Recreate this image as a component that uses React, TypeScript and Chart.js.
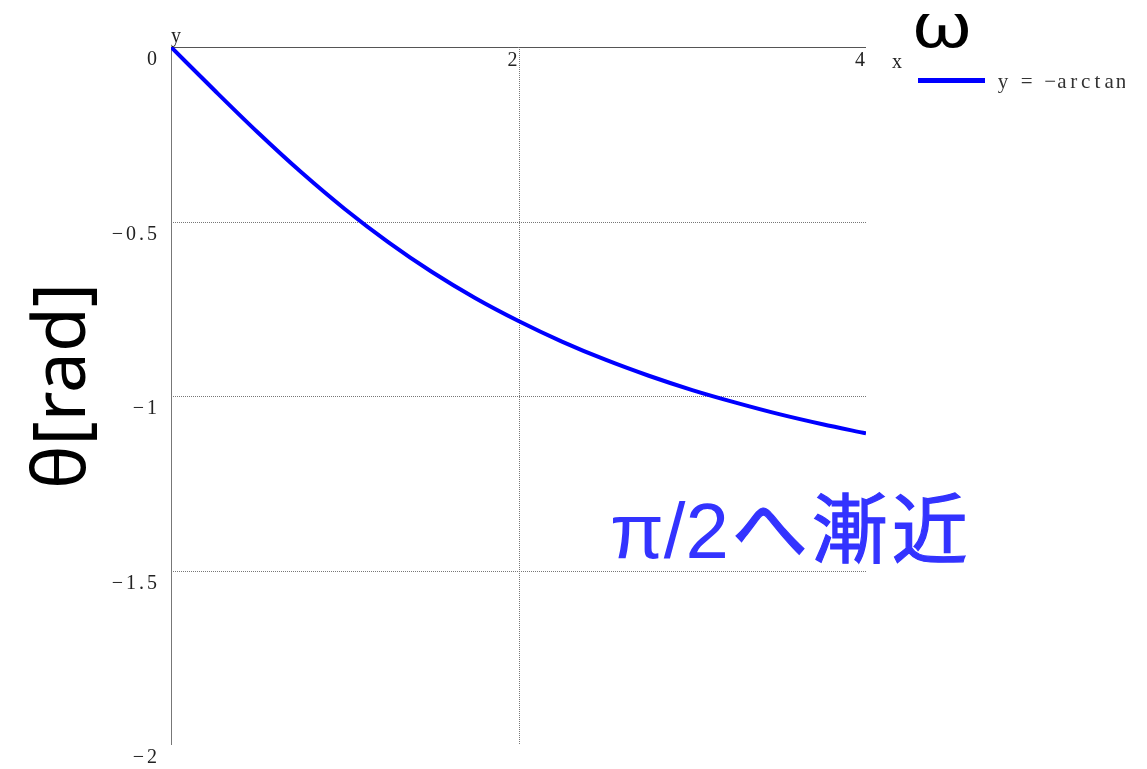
import React, { useEffect, useRef } from "react";
import { Chart, registerables } from "chart.js";

Chart.register(...registerables);

// data
const xValues = [0, 0.25, 0.5, 0.75, 1, 1.25, 1.5, 1.75, 2, 2.25, 2.5, 2.75, 3, 3.25, 3.5, 3.75, 4];
const yValues = [0, -0.124, -0.245, -0.359, -0.464, -0.559, -0.644, -0.719, -0.785, -0.844, -0.896, -0.942, -0.983, -1.019, -1.052, -1.081, -1.107];
const seriesLabel = "y = −arctan(ω/2)";
const xTicks = [2, 4];
const xTickLabels = ["2", "4"];
const yTicks = [0, -0.5, -1, -1.5, -2];
const yTickLabels = ["0", "−0.5", "−1", "−1.5", "−2"];
const xGridValues = [2];
const yGridValues = [-0.5, -1, -1.5];
const yTitle = "θ[rad]";
const xTitle = "ω";
const annotationLatin = "π/2";
const annotationCJK = "へ漸近";

const W = 1147;
const H = 769;
const SERIF = "'Liberation Serif', 'DejaVu Serif', serif";

const overlayPlugin = {
  id: "overlay",
  beforeDatasetsDraw(chart: any) {
    const ctx = chart.ctx;
    const xs = chart.scales.x;
    const ys = chart.scales.y;
    const area = chart.chartArea;
    ctx.save();
    // dotted grid
    ctx.strokeStyle = "#777";
    ctx.lineWidth = 1;
    ctx.setLineDash([1, 1]);
    for (const v of yGridValues) {
      const py = Math.round(ys.getPixelForValue(v)) + 0.5;
      ctx.beginPath();
      ctx.moveTo(area.left, py);
      ctx.lineTo(area.right, py);
      ctx.stroke();
    }
    for (const v of xGridValues) {
      const px = Math.round(xs.getPixelForValue(v)) + 0.5;
      ctx.beginPath();
      ctx.moveTo(px, area.top);
      ctx.lineTo(px, area.bottom);
      ctx.stroke();
    }
    ctx.setLineDash([]);
    // axes
    ctx.strokeStyle = "#555";
    const y0 = Math.round(ys.getPixelForValue(0)) + 0.5;
    ctx.beginPath();
    ctx.moveTo(area.left, y0);
    ctx.lineTo(area.right, y0);
    ctx.stroke();
    ctx.strokeStyle = "#777";
    const x0 = Math.round(xs.getPixelForValue(0)) + 0.5;
    ctx.beginPath();
    ctx.moveTo(x0, area.top);
    ctx.lineTo(x0, area.bottom);
    ctx.stroke();
    ctx.restore();
  },
  afterDatasetsDraw(chart: any) {
    const ctx = chart.ctx;
    const xs = chart.scales.x;
    const ys = chart.scales.y;
    const area = chart.chartArea;
    ctx.save();
    ctx.fillStyle = "#222";
    ctx.font = "20px " + SERIF;
    ctx.textBaseline = "middle";
    // y tick labels
    ctx.textAlign = "right";
    ctx.letterSpacing = "3px";
    yTicks.forEach((v, i) => {
      ctx.fillText(yTickLabels[i], area.left - 11, ys.getPixelForValue(v) + 13);
    });
    ctx.letterSpacing = "0px";
    // x tick labels
    xTicks.forEach((v, i) => {
      ctx.fillText(xTickLabels[i], xs.getPixelForValue(v) - 1, ys.getPixelForValue(0) + 14);
    });
    // small axis names
    ctx.textAlign = "left";
    ctx.fillText("y", area.left, area.top - 10);
    ctx.fillText("x", area.right + 26, ys.getPixelForValue(0) + 16);

    // legend
    const ds = chart.data.datasets[0];
    ctx.strokeStyle = ds.borderColor;
    ctx.lineWidth = 5;
    ctx.beginPath();
    ctx.moveTo(918, 80.5);
    ctx.lineTo(985, 80.5);
    ctx.stroke();
    ctx.save();
    ctx.beginPath();
    ctx.rect(990, 60, 135, 40);
    ctx.clip();
    ctx.fillStyle = "#333";
    ctx.font = "21px " + SERIF;
    ctx.textAlign = "center";
    const label: string = ds.label;
    Array.from(label).forEach((ch, i) => {
      ctx.fillText(ch, 1003 + i * 11.8, 82);
    });
    ctx.restore();

    // big titles
    ctx.fillStyle = "#000";
    ctx.textAlign = "left";
    ctx.textBaseline = "alphabetic";
    ctx.save();
    ctx.translate(911, 47);
    ctx.scale(1.25, 1);
    ctx.font = "62px 'Noto Sans', 'DejaVu Sans', sans-serif";
    ctx.fillText(xTitle, 0, 0);
    ctx.restore();

    ctx.save();
    ctx.translate(85, 386);
    ctx.rotate(-Math.PI / 2);
    ctx.textAlign = "center";
    ctx.font = "73px 'Noto Sans', sans-serif";
    ctx.fillText(yTitle, 0, 0);
    ctx.restore();

    // annotation
    ctx.fillStyle = "#3333ff";
    ctx.strokeStyle = "#3333ff";
    ctx.textAlign = "left";
    ctx.font = "78px 'Liberation Sans', 'Noto Sans CJK JP', sans-serif";
    const ax = 610;
    ctx.fillText(annotationLatin, ax, 558);
    const w = ctx.measureText(annotationLatin).width;
    ctx.font = "76px 'Noto Sans CJK JP', sans-serif";
    ctx.letterSpacing = "4px";
    ctx.lineWidth = 1.2;
    ctx.fillText(annotationCJK, ax + w + 3, 557);
    ctx.strokeText(annotationCJK, ax + w + 3, 557);
    ctx.letterSpacing = "0px";
    ctx.restore();
  },
};

export default function App() {
  const ref = useRef<HTMLCanvasElement>(null);
  useEffect(() => {
    if (!ref.current) return;
    const chart = new Chart(ref.current, {
      type: "line",
      data: {
        datasets: [
          {
            label: seriesLabel,
            data: xValues.map((x, i) => ({ x, y: yValues[i] })),
            borderColor: "#0000ff",
            borderWidth: 4,
            pointRadius: 0,
            cubicInterpolationMode: "monotone",
            fill: false,
          },
        ],
      },
      options: {
        responsive: false,
        animation: false,
        layout: { padding: { left: 171, top: 47, right: W - 866, bottom: H - 745 } },
        plugins: { legend: { display: false }, tooltip: { enabled: false } },
        scales: {
          x: { type: "linear", min: 0, max: 4, display: false },
          y: { type: "linear", min: -2, max: 0, display: false },
        },
      },
      plugins: [overlayPlugin],
    });
    return () => chart.destroy();
  }, []);
  return (
    <div style={{ position: "absolute", left: 0, top: 0, width: W, height: H, background: "#fff" }}>
      <canvas ref={ref} width={W} height={H} />
    </div>
  );
}
